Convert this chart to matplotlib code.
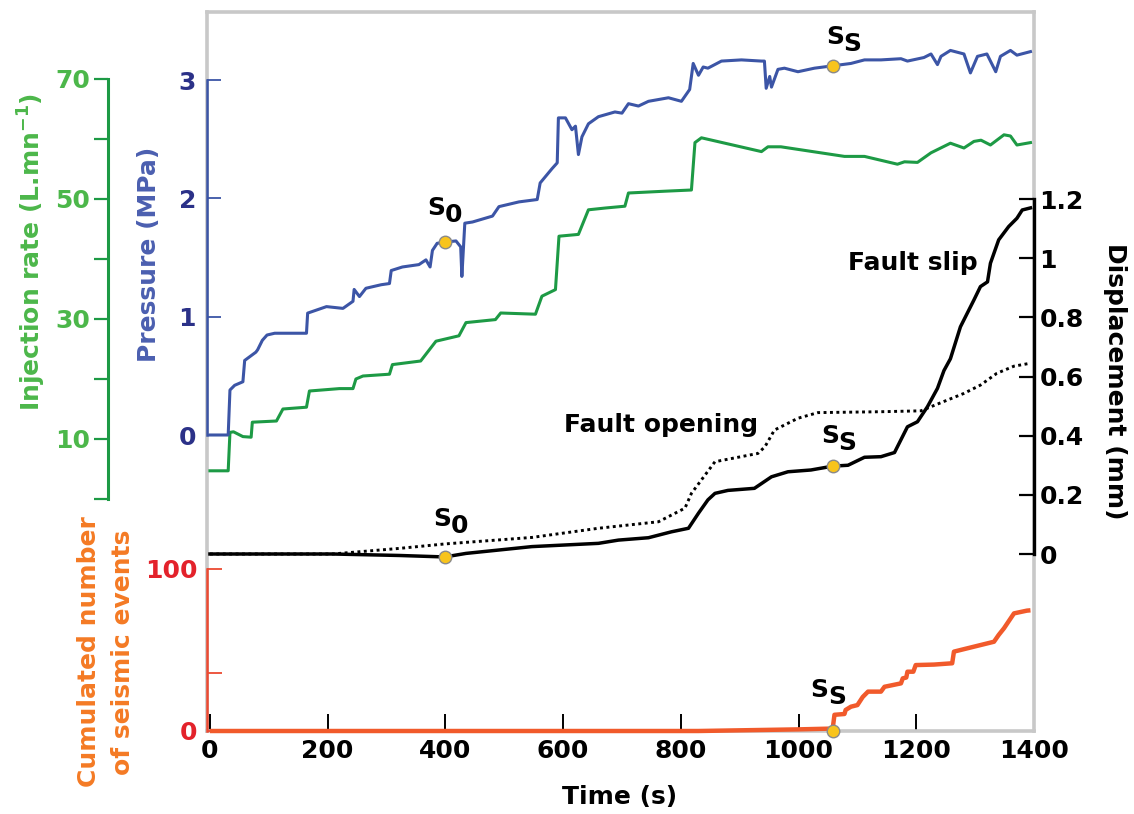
import numpy as np
import matplotlib
matplotlib.use("Agg")
import matplotlib.pyplot as plt
from matplotlib.ticker import FixedLocator, NullFormatter

plt.rcParams['font.family'] = ['DejaVu Sans']
plt.rcParams['font.weight'] = 'bold'
plt.rcParams['mathtext.fontset'] = 'dejavusans'
plt.rcParams['mathtext.default'] = 'bf'

# ---- data ----
# pressure (MPa)
p_time = [0, 31, 34, 42, 56, 59, 78, 81, 89, 97, 110, 164, 166, 198, 226, 243, 245, 254,
          265, 291, 305, 308, 327, 355, 367, 374, 378, 386, 399, 418, 426, 428, 433, 446,
          480, 491, 525, 556, 561, 581, 590, 592, 604, 615, 621, 626, 632, 643, 660, 688,
          700, 711, 728, 745, 779, 801, 815, 821, 830, 838, 846, 869, 903, 937, 942, 945,
          951, 954, 965, 976, 999, 1027, 1058, 1089, 1112, 1140, 1174, 1185, 1213, 1225,
          1236, 1242, 1258, 1281, 1292, 1304, 1320, 1335, 1343, 1360, 1371, 1394]
p_val = [0.0, 0.0, 0.38, 0.42, 0.45, 0.63, 0.70, 0.72, 0.80, 0.845, 0.86, 0.86, 1.03, 1.085,
         1.07, 1.13, 1.23, 1.17, 1.24, 1.27, 1.28, 1.39, 1.42, 1.44, 1.48, 1.42, 1.56, 1.62,
         1.63, 1.64, 1.59, 1.34, 1.79, 1.80, 1.85, 1.93, 1.97, 1.99, 2.13, 2.25, 2.30, 2.68,
         2.68, 2.58, 2.61, 2.37, 2.52, 2.63, 2.69, 2.73, 2.72, 2.80, 2.78, 2.82, 2.85, 2.82,
         2.92, 3.14, 3.04, 3.11, 3.10, 3.16, 3.17, 3.16, 3.16, 2.93, 3.03, 2.94, 3.09, 3.10,
         3.07, 3.10, 3.12, 3.14, 3.17, 3.17, 3.18, 3.16, 3.19, 3.22, 3.13, 3.20, 3.25, 3.22,
         3.06, 3.20, 3.22, 3.07, 3.20, 3.25, 3.21, 3.24]

# injection rate (L/mn)
q_time = [0, 31, 34, 40, 56, 70, 72, 113, 124, 164, 169, 220, 243, 248, 260, 305, 310, 358,
          384, 423, 435, 485, 494, 553, 564, 587, 593, 626, 643, 672, 705, 711, 773, 818,
          824, 835, 937, 948, 970, 1078, 1112, 1168, 1180, 1202, 1225, 1258, 1281, 1298,
          1310, 1326, 1349, 1360, 1371, 1394]
q_val = [4.7, 4.7, 11.1, 11.2, 10.4, 10.3, 12.8, 13.0, 15.0, 15.3, 18.0, 18.4, 18.4, 20.0,
         20.5, 20.8, 22.4, 23.0, 26.3, 27.2, 29.4, 29.9, 31.0, 30.8, 33.8, 34.9, 43.8, 44.1,
         48.2, 48.5, 48.8, 51.0, 51.3, 51.5, 59.4, 60.2, 57.9, 58.7, 58.7, 57.1, 57.1, 55.8,
         56.2, 56.1, 57.7, 59.3, 58.5, 59.6, 59.8, 59.0, 60.7, 60.5, 59.0, 59.4]

# fault slip (mm)
slip_time = [0, 208, 322, 399, 435, 547, 660, 694, 745, 784, 813, 830, 846, 858, 880, 925,
             954, 982, 1021, 1058, 1084, 1112, 1140, 1163, 1185, 1202, 1219, 1236, 1247,
             1258, 1275, 1298, 1309, 1321, 1326, 1340, 1357, 1371, 1380, 1394]
slip_val = [0.0, 0.0, -0.005, -0.01, 0.002, 0.025, 0.036, 0.047, 0.055, 0.075, 0.087, 0.138,
            0.183, 0.205, 0.215, 0.222, 0.261, 0.278, 0.284, 0.297, 0.30, 0.327, 0.329,
            0.343, 0.43, 0.447, 0.498, 0.56, 0.62, 0.66, 0.768, 0.859, 0.904, 0.92, 0.983,
            1.062, 1.107, 1.135, 1.163, 1.17]

# fault opening (mm)
open_time = [0, 208, 322, 399, 547, 660, 762, 807, 818, 858, 931, 943, 959, 999, 1033,
             1140, 1208, 1225, 1281, 1309, 1337, 1366, 1394]
open_val = [0.0, 0.0, 0.019, 0.034, 0.056, 0.087, 0.109, 0.155, 0.205, 0.312, 0.34, 0.363,
            0.419, 0.459, 0.478, 0.481, 0.484, 0.498, 0.543, 0.571, 0.611, 0.635, 0.645]

# cumulated number of seismic events
ev_time = [0, 830, 999, 1058, 1061, 1078, 1080, 1089, 1100, 1109, 1118, 1140, 1146, 1174,
           1177, 1183, 1185, 1195, 1199, 1230, 1261, 1264, 1332, 1340, 1349, 1366, 1388, 1394]
ev_val = [0, 0, 1, 1.5, 10, 10.5, 13, 15, 16, 21, 24.3, 24.3, 27.3, 29.4, 32.5, 33, 36.6,
          36.6, 40.7, 41, 41.8, 49, 55.1, 59.3, 63.4, 72.6, 74.3, 74.5]

# stage markers: S0 and Ss
s0_time = 399
ss_time = 1058
s0_pressure, ss_pressure = 1.63, 3.12
s0_slip, ss_slip = -0.01, 0.297
ss_events = 0

x_ticks = [0, 200, 400, 600, 800, 1000, 1200, 1400]
p_ticks = [0, 1, 2, 3]
q_ticks = [10, 30, 50, 70]
q_minor = [0, 20, 40, 60]
ev_ticks = [0, 100]
ev_minor = [36]
d_ticks = [0, 0.2, 0.4, 0.6, 0.8, 1.0, 1.2]
d_labels = ['0', '0.2', '0.4', '0.6', '0.8', '1', '1.2']

# ---- colours ----
BLUE_LINE = '#3c55a6'
BLUE_TICK = '#2b3188'
BLUE_LAB = '#4b5fb0'
GREEN_LINE = '#1d9a45'
GREEN_TXT = '#4cb74a'
ORANGE_LINE = '#f15a2b'
RED_SPINE = '#ec4a32'
RED_TXT = '#e3222b'
ORANGE_TXT = '#f47a24'
GREY = '#c8c8c8'
YELLOW = '#f8c41c'

FS = 18

fig = plt.figure(figsize=(11.34, 8.14), dpi=100)
ax = fig.add_axes([207 / 1134, 83 / 814, 827 / 1134, 719 / 814])
ax.set_xlim(-5, 1400)
ax.set_yticks([])
for s in ax.spines.values():
    s.set_color(GREY)
    s.set_linewidth(2.6)
ax.set_xticks(x_ticks)
ax.tick_params(axis='x', direction='in', length=12, width=1.4, color='black',
               labelsize=FS, pad=6)
ax.set_xlabel('Time (s)', fontsize=FS, fontweight='bold')
ax.xaxis.set_label_coords(0.4994, -0.092)
ax.xaxis.label.set_va('center')


def twin(ylim):
    a = ax.twinx()
    a.set_ylim(ylim)
    for s in a.spines.values():
        s.set_visible(False)
    return a


def left_label(a, text, color, x, y, **kw):
    a.yaxis.set_label_position('left')
    lab = a.set_ylabel(text, color=color, fontsize=FS, fontweight='bold',
                       rotation=90, va='center', ha='center', **kw)
    a.yaxis.set_label_coords(x, y)
    return lab


# injection rate axis (outer left, 99 px = 71.3 pt out)
ai = twin((-(731 - 499) / 6.0, (499 - 12) / 6.0))
ai.yaxis.tick_left()
ai.spines['left'].set_visible(True)
ai.spines['left'].set_position(('outward', 71.3))
ai.spines['left'].set_bounds(0, 70)
ai.spines['left'].set_color(GREEN_LINE)
ai.spines['left'].set_linewidth(2.2)
ai.yaxis.set_major_locator(FixedLocator(q_ticks))
ai.yaxis.set_minor_locator(FixedLocator(q_minor))
ai.yaxis.set_minor_formatter(NullFormatter())
ai.tick_params(axis='y', which='both', direction='out', length=10, width=1.6,
               color=GREEN_LINE, labelcolor=GREEN_TXT, labelsize=FS, pad=3)
left_label(ai, r'Injection rate (L.mn$^{-1}$)', GREEN_TXT, -0.212, 0.666)
ai.plot(q_time, q_val, color=GREEN_LINE, lw=2.2)

# pressure axis
ap = twin((-(731 - 435) / 118.33, (435 - 12) / 118.33))
ap.yaxis.tick_left()
ap.spines['left'].set_visible(True)
ap.spines['left'].set_bounds(0, 3)
ap.spines['left'].set_color(BLUE_LINE)
ap.spines['left'].set_linewidth(1.8)
ap.set_yticks(p_ticks)
ap.tick_params(axis='y', direction='in', length=10, width=1.3, color=BLUE_LINE,
               labelcolor=BLUE_TICK, labelsize=FS, pad=8)
left_label(ap, 'Pressure (MPa)', BLUE_LAB, -0.0701, 0.663)
ap.plot(p_time, p_val, color=BLUE_LINE, lw=2.2)

# cumulated seismic events axis
ae = twin((0, 719 / 1.62))
ae.yaxis.tick_left()
ae.spines['left'].set_visible(True)
ae.spines['left'].set_bounds(0, 100)
ae.spines['left'].set_color(RED_SPINE)
ae.spines['left'].set_linewidth(1.8)
ae.yaxis.set_major_locator(FixedLocator(ev_ticks))
ae.yaxis.set_minor_locator(FixedLocator(ev_minor))
ae.yaxis.set_minor_formatter(NullFormatter())
ae.tick_params(axis='y', which='both', direction='in', length=11, width=1.3,
               color=RED_SPINE, labelcolor=RED_TXT, labelsize=FS, pad=7)
left_label(ae, 'Cumulated number\nof seismic events', ORANGE_TXT, -0.1221, 0.110,
           linespacing=1.55)
ae.plot(ev_time, ev_val, color=ORANGE_LINE, lw=3.2, clip_on=False, solid_capstyle='butt')

# displacement axis (right, inside the frame)
ad = twin((-(731 - 554) / 295.8, (554 - 12) / 295.8))
ad.yaxis.tick_right()
ad.spines['right'].set_visible(True)
ad.spines['right'].set_bounds(0, 1.2)
ad.spines['right'].set_color('black')
ad.spines['right'].set_linewidth(2.4)
ad.set_yticks(d_ticks)
ad.set_yticklabels(d_labels)
ad.tick_params(axis='y', direction='in', length=11, width=1.6, color='black',
               labelcolor='black', labelsize=FS, pad=4)
ad.yaxis.set_label_position('right')
ad.set_ylabel('Displacement (mm)', fontsize=FS, fontweight='bold', rotation=270,
              va='center', ha='center')
ad.yaxis.set_label_coords(1.098, 0.487)
ad.plot(open_time, open_val, color='black', lw=2.1, ls=(0, (1, 1.2)))
ad.plot(slip_time, slip_val, color='black', lw=2.5)

# stage markers and their labels
mk = dict(marker='o', ms=9, mfc=YELLOW, mec='#8a8a8a', mew=1.0, ls='none',
          clip_on=False, zorder=5)
ap.plot([s0_time, ss_time], [s0_pressure, ss_pressure], **mk)
ad.plot([s0_time, ss_time], [s0_slip, ss_slip], **mk)
ae.plot([ss_time], [ss_events], **mk)


def stage_label(a, t, v, sub, dx, dy):
    # "S" followed by a lowered second character of the same size
    a.annotate('S', (t, v), xytext=(dx, dy), textcoords='offset points',
               fontsize=FS, fontweight='bold', ha='center', va='center')
    a.annotate(sub, (t, v), xytext=(dx + 12.5, dy - 5), textcoords='offset points',
               fontsize=FS, fontweight='bold', ha='center', va='center')


stage_label(ap, s0_time, s0_pressure, '0', -6.5, 24.5)
stage_label(ad, s0_time, s0_slip, '0', -2, 27)
stage_label(ap, ss_time, ss_pressure, 'S', 1.5, 21)
stage_label(ad, ss_time, ss_slip, 'S', -2, 21.5)
stage_label(ae, ss_time, ss_events, 'S', -9.5, 29.5)

ad.text(1194, 0.984, 'Fault slip', fontsize=FS, fontweight='bold', ha='center',
        va='center')
ad.text(766, 0.436, 'Fault opening', fontsize=FS, fontweight='bold', ha='center',
        va='center')

fig.savefig('out.png', dpi=100)
